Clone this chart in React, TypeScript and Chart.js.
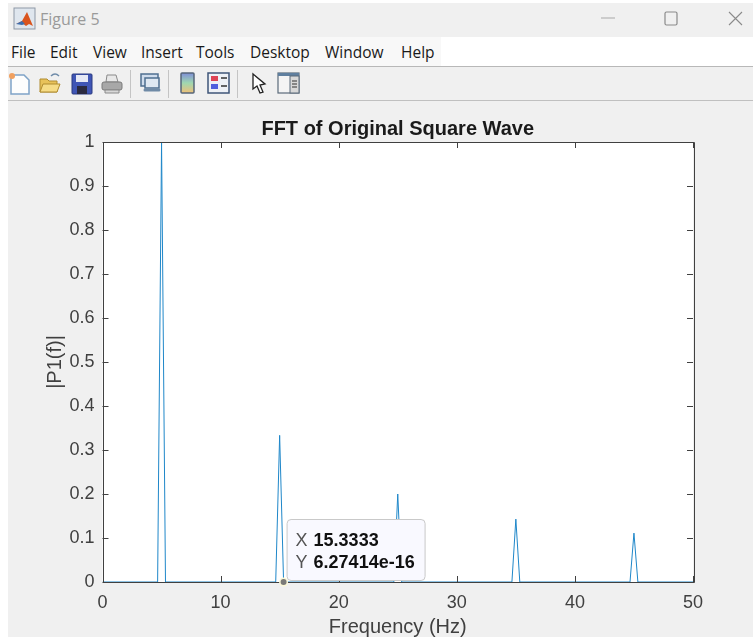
import React, { useEffect, useRef } from "react";
import { Chart, registerables } from "chart.js";

Chart.register(...registerables);

const frequencies = [0, 4.6667, 5, 5.3333, 14.6667, 15, 15.3333, 24.6667, 25, 25.3333, 34.6667, 35, 35.3333, 44.6667, 45, 45.3333, 50];
const magnitudes = [0, 0, 1, 0, 0, 0.3333, 0, 0, 0.2, 0, 0, 0.1429, 0, 0, 0.1111, 0, 0];
const xTicks = [0, 10, 20, 30, 40, 50];
const yTicks = [0, 0.1, 0.2, 0.3, 0.4, 0.5, 0.6, 0.7, 0.8, 0.9, 1];
const tipX = 15.3333;
const tipY = 6.27414e-16;
const tipLabels = ["15.3333", "6.27414e-16"];
const menuItems: [string, number][] = [["File", 11], ["Edit", 50], ["View", 93], ["Insert", 141], ["Tools", 196], ["Desktop", 250], ["Window", 325], ["Help", 401]];

const AXIS = "#404040";
const FONT = "'Liberation Sans', Arial, sans-serif";

const framePlugin = {
  id: "frame",
  beforeDraw(chart: any) {
    const { ctx, width, height } = chart;
    ctx.save();
    ctx.fillStyle = "#f0f0f0";
    ctx.fillRect(0, 0, width, height);
    const a = chart.chartArea;
    ctx.fillStyle = "#ffffff";
    ctx.fillRect(a.left, a.top, a.right - a.left, a.bottom - a.top);
    ctx.restore();
  },
  afterDatasetsDraw(chart: any) {
    const { ctx, chartArea: a, scales } = chart;
    ctx.save();
    ctx.strokeStyle = AXIS;
    ctx.lineWidth = 1;
    ctx.beginPath();
    ctx.rect(Math.round(a.left) + 0.5, Math.round(a.top) + 0.5, Math.round(a.right - a.left), Math.round(a.bottom - a.top));
    for (const v of xTicks) {
      const x = Math.round(scales.x.getPixelForValue(v)) + 0.5;
      ctx.moveTo(x, a.bottom); ctx.lineTo(x, a.bottom - 6);
      ctx.moveTo(x, a.top); ctx.lineTo(x, a.top + 6);
    }
    for (const v of yTicks) {
      const y = Math.round(scales.y.getPixelForValue(v)) + 0.5;
      ctx.moveTo(a.left, y); ctx.lineTo(a.left + 6, y);
      ctx.moveTo(a.right, y); ctx.lineTo(a.right - 6, y);
    }
    ctx.stroke();
    ctx.restore();
  },
  afterDraw(chart: any) {
    const { ctx, scales } = chart;
    const px = scales.x.getPixelForValue(tipX);
    const py = scales.y.getPixelForValue(tipY);
    ctx.save();
    ctx.beginPath();
    ctx.arc(px, py, 4.5, 0, Math.PI * 2);
    ctx.fillStyle = "#fbf8d8";
    ctx.fill();
    ctx.beginPath();
    ctx.arc(px, py, 3, 0, Math.PI * 2);
    ctx.fillStyle = "#7a7a78";
    ctx.fill();
    const bx = px + 3, by = py - 63;
    ctx.beginPath();
    ctx.roundRect(bx + 0.5, by + 0.5, 138, 61, 4);
    ctx.fillStyle = "#f9f9ff";
    ctx.fill();
    ctx.strokeStyle = "#c9c9c9";
    ctx.stroke();
    ctx.textBaseline = "middle";
    ctx.textAlign = "left";
    ctx.font = `18px ${FONT}`;
    ctx.fillStyle = "#555555";
    ctx.fillText("X", bx + 9, by + 22);
    ctx.fillText("Y", bx + 9, by + 44);
    ctx.font = `bold 18px ${FONT}`;
    ctx.fillStyle = "#111111";
    ctx.fillText(tipLabels[0], bx + 27, by + 22);
    ctx.fillText(tipLabels[1], bx + 27, by + 44);
    ctx.restore();
  },
};

function Icon({ x, children, w = 26 }: { x: number; w?: number; children: React.ReactNode }) {
  return (
    <svg width={w} height={26} viewBox={`0 0 ${w} 26`} style={{ position: "absolute", left: x, top: 70 }}>
      {children}
    </svg>
  );
}

function Toolbar() {
  return (
    <>
      <Icon x={7}>
        <path d="M4 5h13l5 5v14H4z" fill="#fdfdfd" stroke="#7fa3c7" strokeWidth="1.5" />
        <circle cx="5" cy="6" r="3" fill="#f0a060" />
      </Icon>
      <Icon x={37}>
        <path d="M3 22V9h7l2 2h8v11z" fill="#e8c25a" stroke="#b08c30" />
        <path d="M3 22l3-8h17l-3 8z" fill="#f6dc86" stroke="#b08c30" />
        <path d="M14 6c3-3 6-2 8 0" fill="none" stroke="#6d8aa8" strokeWidth="1.5" />
      </Icon>
      <Icon x={69}>
        <rect x="3" y="4" width="20" height="20" rx="1" fill="#3f55b5" stroke="#2b3a80" />
        <rect x="7" y="5" width="12" height="7" fill="#e6e9f5" />
        <rect x="8" y="16" width="10" height="8" fill="#2a2a40" />
      </Icon>
      <Icon x={99}>
        <path d="M8 5h9l2 7H7z" fill="#e8e8e8" stroke="#8a8a8a" />
        <rect x="3" y="12" width="20" height="8" rx="2" fill="#a8a8a8" stroke="#7a7a7a" />
        <path d="M6 20h14v3H6z" fill="#d8d8d8" stroke="#8a8a8a" />
      </Icon>
      <div style={{ position: "absolute", left: 130, top: 70, width: 1, height: 28, background: "#c4c4c4" }} />
      <Icon x={137}>
        <rect x="4" y="4" width="17" height="12" fill="#cfdcec" stroke="#4f6f90" strokeWidth="1.5" />
        <rect x="8" y="8" width="14" height="10" fill="#dfe8f2" stroke="#4f6f90" strokeWidth="1.5" />
        <path d="M8 20h14" stroke="#6f8aa6" strokeWidth="3" strokeLinecap="round" />
      </Icon>
      <div style={{ position: "absolute", left: 168, top: 70, width: 1, height: 28, background: "#c4c4c4" }} />
      <svg width="26" height="26" style={{ position: "absolute", left: 175, top: 70 }}>
        <defs>
          <linearGradient id="cb" x1="0" y1="0" x2="0" y2="1">
            <stop offset="0" stopColor="#7f8fd8" />
            <stop offset="0.5" stopColor="#9fd8b0" />
            <stop offset="1" stopColor="#f0c078" />
          </linearGradient>
        </defs>
        <rect x="6" y="3" width="13" height="20" rx="1" fill="url(#cb)" stroke="#55657a" strokeWidth="1.5" />
      </svg>
      <Icon x={206}>
        <rect x="2" y="3" width="21" height="20" fill="#eef1f6" stroke="#3f5578" strokeWidth="1.5" />
        <rect x="5" y="6" width="7" height="5" fill="#dd4455" />
        <rect x="5" y="14" width="7" height="5" fill="#5060dd" />
        <path d="M15 8h6M15 16h6" stroke="#333" strokeWidth="1.5" />
      </Icon>
      <div style={{ position: "absolute", left: 237, top: 70, width: 1, height: 28, background: "#c4c4c4" }} />
      <Icon x={247}>
        <path d="M6 4l0 15 4-3 3 7 3-1-3-7 5-1z" fill="#ffffff" stroke="#222" strokeWidth="1.3" />
      </Icon>
      <Icon x={276}>
        <rect x="2" y="3" width="21" height="20" fill="#f4f4f4" stroke="#5a6a7a" strokeWidth="1.2" />
        <rect x="2" y="3" width="21" height="3" fill="#5f7f9f" />
        <rect x="14" y="6" width="9" height="17" fill="#d8d8d8" stroke="#5a6a7a" />
        <path d="M16 11h5M16 14h5M16 17h5" stroke="#333" />
      </Icon>
    </>
  );
}

export default function App() {
  const ref = useRef<HTMLCanvasElement>(null);
  useEffect(() => {
    document.body.style.margin = "0";
    document.body.style.background = "#ffffff";
    const chart = new Chart(ref.current!, {
      type: "line",
      data: {
        datasets: [{
          data: frequencies.map((f, i) => ({ x: f, y: magnitudes[i] })),
          borderColor: "#1f87c9",
          borderWidth: 1,
          pointRadius: 0,
          tension: 0,
        }],
      },
      plugins: [framePlugin],
      options: {
        animation: false,
        responsive: false,
        events: [],
        layout: { padding: { top: 16, right: 60, left: 0, bottom: 0 } },
        plugins: {
          legend: { display: false },
          tooltip: { enabled: false },
          title: {
            display: true,
            fullSize: false,
            text: "FFT of Original Square Wave",
            color: "#1a1a1a",
            font: { family: FONT, size: 20, weight: "bold" },
            padding: { top: 0, bottom: 1 },
          },
        },
        scales: {
          x: {
            type: "linear",
            min: 0,
            max: 50,
            afterBuildTicks: (s: any) => { s.ticks = xTicks.map((value) => ({ value })); },
            afterFit: (s: any) => { s.height = 57; },
            grid: { display: false },
            border: { display: false },
            ticks: { color: AXIS, font: { family: FONT, size: 18 }, padding: 2, maxRotation: 0 },
            title: { display: true, text: "Frequency (Hz)", color: AXIS, font: { family: FONT, size: 20 }, padding: { top: 0, bottom: 0 } },
          },
          y: {
            type: "linear",
            min: 0,
            max: 1,
            afterBuildTicks: (s: any) => { s.ticks = yTicks.map((value) => ({ value })); },
            afterFit: (s: any) => { s.width = 94.5; },
            grid: { display: false },
            border: { display: false },
            ticks: { color: AXIS, font: { family: FONT, size: 18 }, padding: 0, callback: (v: any) => String(v) },
            title: { display: true, text: "|P1(f)|", color: AXIS, font: { family: FONT, size: 20 }, padding: { top: 35, bottom: 0 } },
          },
        },
      },
    } as any);
    return () => chart.destroy();
  }, []);

  const chrome = "'Open Sans', 'Noto Sans', sans-serif";
  return (
    <div style={{ position: "relative", width: 753, height: 637, overflow: "hidden", background: "#fff" }}>
      <div style={{ position: "absolute", left: 8, top: 3, right: 0, height: 34, background: "#f0f0f0" }} />
      <svg width="24" height="24" style={{ position: "absolute", left: 13, top: 7 }}>
        <rect x="1" y="1" width="21" height="21" fill="#dfe6ee" stroke="#8d98a6" />
        <path d="M3 17l6-3 5-9 6 14-4-2-3 2-4-3z" fill="#d9541e" />
        <path d="M3 17l6-3 3 3-3 1z" fill="#3d6fb0" />
      </svg>
      <div style={{ position: "absolute", left: 40, top: 8, fontFamily: chrome, fontSize: 16, color: "#9a9a9a" }}>Figure 5</div>
      <svg width="160" height="30" style={{ position: "absolute", left: 593, top: 4 }}>
        <path d="M8 14h14" stroke="#a8a8a8" strokeWidth="1" />
        <rect x="72" y="8" width="12" height="13" rx="1.5" fill="none" stroke="#8a8a8a" strokeWidth="1.2" />
        <path d="M136 8l13 13M149 8l-13 13" stroke="#8a8a8a" strokeWidth="1.1" />
      </svg>
      <div style={{ position: "absolute", left: 8, top: 37, width: 433, height: 29, background: "#f8f8f8" }} />
      {menuItems.map(([label, x]) => (
        <div key={label} style={{ position: "absolute", left: x, top: 41, fontFamily: chrome, fontSize: 15.5, color: "#1a1a1a" }}>{label}</div>
      ))}
      <div style={{ position: "absolute", left: 8, top: 66, right: 0, height: 35, background: "#f0f0f0", borderTop: "1px solid #b8b8b8", borderBottom: "1px solid #c0c0c0", boxSizing: "border-box" }} />
      <Toolbar />
      <canvas ref={ref} width={745} height={538} style={{ position: "absolute", left: 8, top: 101, display: "block" }} />
    </div>
  );
}
